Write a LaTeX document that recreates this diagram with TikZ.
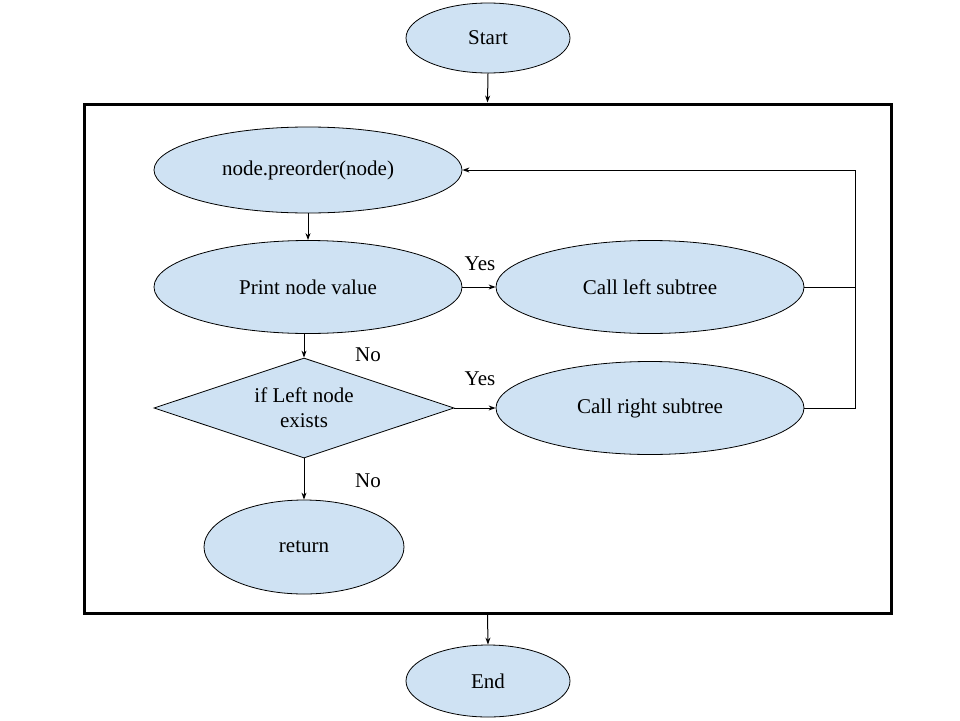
\documentclass[tikz,border=0pt]{standalone}
\usepackage{fontspec}
\setmainfont{Liberation Serif}
\newfontfamily\diagfont{Liberation Serif}
\usetikzlibrary{shapes.geometric,arrows.meta}
\definecolor{boxfill}{HTML}{CFE2F3}
\begin{document}
\begin{tikzpicture}[x=1pt,y=-1pt,
  every node/.style={font=\diagfont\fontsize{21}{25}\selectfont},
  term/.style={ellipse,draw=black,line width=0.8pt,fill=boxfill,inner sep=0pt},
  decide/.style={diamond,draw=black,line width=0.8pt,fill=boxfill,inner sep=0pt,align=center,aspect=3},
  lbl/.style={inner sep=0pt},
  conn/.style={line width=1pt,-{Stealth[length=7pt,width=5pt]}},
  plain/.style={line width=1pt}]
\useasboundingbox (0,0) rectangle (960,720);
\node[draw=black,line width=3pt,minimum width=807pt,minimum height=509pt,inner sep=0pt] (frame) at (487.5,358.5) {};
\node[term,minimum width=164pt,minimum height=70pt] (start) at (488,38) {Start};
\node[term,minimum width=164pt,minimum height=72pt] (end) at (488,681) {End};
\node[term,minimum width=308pt,minimum height=86pt] (pre) at (308,170) {node.preorder(node)};
\node[term,minimum width=308pt,minimum height=93pt] (print) at (308,287) {Print node value};
\node[term,minimum width=308pt,minimum height=93pt] (cl) at (650,287) {Call left subtree};
\node[term,minimum width=308pt,minimum height=93pt] (cr) at (650,408) {Call right subtree};
\node[decide,minimum width=300pt,minimum height=100pt] (dec) at (304,408) {if Left node\\exists};
\node[term,minimum width=200pt,minimum height=94pt] (ret) at (304,547) {return};
\node[lbl] (no1) at (368,355) {No};
\node[lbl] (no2) at (368,481) {No};
\node[lbl] (yes1) at (480,264) {Yes};
\node[lbl] (yes2) at (480,379) {Yes};
\coordinate (r1) at (855,287);
\coordinate (r2) at (855,408);
\coordinate (r3) at (855,170);
\draw[conn] (start.south) -- (frame.north);
\draw[conn] (frame.south) -- (end.north);
\draw[conn] (pre.south) -- (print.north);
\draw[conn] (print.south -| dec.north) -- (dec.north);
\draw[conn] (dec.south) -- (ret.north);
\draw[conn] (print.east) -- (cl.west);
\draw[conn] (dec.east) -- (cr.west);
\draw[plain] (cl.east) -- (r1);
\draw[conn] (cr.east) -- (r2) -- (r3) -- (pre.east);
\end{tikzpicture}
\end{document}
